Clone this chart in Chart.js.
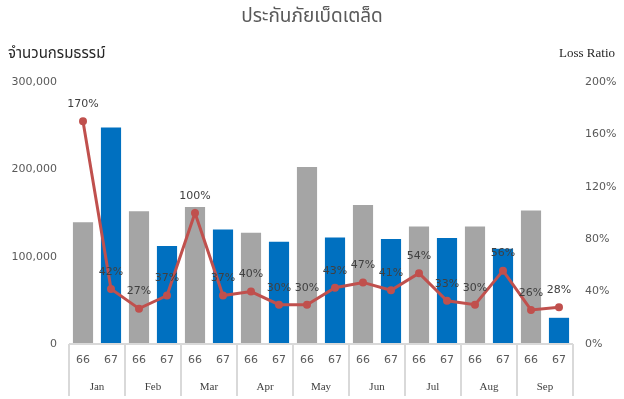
<!DOCTYPE html>
<html>
<head>
<meta charset="utf-8">
<script src="https://cdn.jsdelivr.net/npm/chart.js@4.4.1/dist/chart.umd.min.js"></script>
<style>
  html, body { margin: 0; padding: 0; background: #fff; }
  #wrap { position: relative; width: 624px; height: 399px; }
  #chart { position: absolute; left: 0; top: 0; }
  .txt { position: absolute; white-space: nowrap; }
  #title { left: 0; width: 624px; top: 2px; text-align: center; font: 19px "Noto Sans Thai", "Noto Sans", sans-serif; color: #595959; }
  #yTitle { left: 8px; top: 42px; font: 15px "Noto Sans Thai", "Noto Sans", sans-serif; color: #262626; }
  #y1Title { right: 9px; top: 45px; font: 13px "Liberation Serif", serif; color: #262626; }
</style>
</head>
<body>
<div id="wrap">
  <canvas id="chart" width="624" height="399"></canvas>
  <div class="txt" id="title">ประกันภัยเบ็ดเตล็ด</div>
  <div class="txt" id="yTitle">จำนวนกรมธรรม์</div>
  <div class="txt" id="y1Title">Loss Ratio</div>
</div>
<script>
const MONTHS = ["Jan", "Feb", "Mar", "Apr", "May", "Jun", "Jul", "Aug", "Sep"];
const YEARS = ["66", "67", "66", "67", "66", "67", "66", "67", "66", "67", "66", "67", "66", "67", "66", "67", "66", "67"];
const POLICIES = [139500, 247900, 152000, 112100, 157000, 131200, 127400, 117100, 202700, 122000,
  159300, 120100, 134600, 121300, 134600, 109200, 152900, 30000];
const LOSS_RATIO = [1.70, 0.42, 0.27, 0.37, 1.00, 0.37, 0.40, 0.30, 0.30, 0.43,
  0.47, 0.41, 0.54, 0.33, 0.30, 0.56, 0.26, 0.28];
const GREY = "#A5A5A5";
const BLUE = "#0070C0";
const RED = "#C0504D";
const TICK_FONT = { family: "DejaVu Sans", size: 11 };

const monthDividers = {
  id: "monthDividers",
  afterDraw(chart) {
    const xs = chart.scales.x;
    const ctx = chart.ctx;
    const step = (xs.getPixelForValue(1) - xs.getPixelForValue(0));
    ctx.save();
    ctx.strokeStyle = "#D9D9D9";
    ctx.lineWidth = 2;
    ctx.beginPath();
    ctx.moveTo(xs.left, chart.chartArea.bottom);
    ctx.lineTo(xs.right, chart.chartArea.bottom);
    for (let i = 0; i <= YEARS.length; i += 2) {
      const px = xs.getPixelForValue(0) - step / 2 + i * step;
      ctx.moveTo(px, chart.chartArea.bottom);
      ctx.lineTo(px, chart.height - 3);
    }
    ctx.stroke();
    ctx.restore();
  }
};

const pointLabels = {
  id: "pointLabels",
  afterDatasetsDraw(chart) {
    const meta = chart.getDatasetMeta(1);
    const ctx = chart.ctx;
    ctx.save();
    ctx.font = "11px 'DejaVu Sans'";
    ctx.fillStyle = "#404040";
    ctx.textAlign = "center";
    ctx.textBaseline = "middle";
    meta.data.forEach((pt, i) => {
      ctx.fillText(Math.round(LOSS_RATIO[i] * 100) + "%", pt.x, pt.y - 17);
    });
    ctx.restore();
  }
};

new Chart(document.getElementById("chart"), {
  data: {
    labels: YEARS,
    datasets: [
      {
        type: "bar",
        data: POLICIES,
        backgroundColor: YEARS.map((y) => (y === "66" ? GREY : BLUE)),
        barPercentage: 0.72,
        categoryPercentage: 1,
        yAxisID: "y",
        order: 2
      },
      {
        type: "line",
        data: LOSS_RATIO,
        borderColor: RED,
        backgroundColor: RED,
        borderWidth: 3,
        pointRadius: 2.5,
        tension: 0,
        yAxisID: "y1",
        order: 1
      }
    ]
  },
  options: {
    responsive: false,
    animation: false,
    layout: { padding: { left: 0, right: 0, top: 82, bottom: 0 } },
    plugins: { legend: { display: false }, tooltip: { enabled: false } },
    scales: {
      x: {
        offset: true,
        grid: { display: false, drawTicks: false },
        border: { display: false },
        ticks: { color: "#595959", font: { family: "DejaVu Sans", size: 11 }, padding: 10 },
        afterFit: (s) => { s.height = 28; }
      },
      x2: {
        type: "category",
        position: "bottom",
        labels: MONTHS,
        offset: true,
        grid: { display: false, drawTicks: false },
        border: { display: false },
        ticks: { color: "#404040", font: { family: "Liberation Serif", size: 11 }, padding: 9 },
        afterFit: (s) => { s.height = 27; }
      },
      y: {
        position: "left",
        min: 0,
        max: 300000,
        ticks: {
          stepSize: 100000,
          color: "#595959",
          font: TICK_FONT,
          padding: 12,
          callback: (v) => v.toLocaleString("en-US")
        },
        grid: { display: false, drawTicks: false },
        border: { display: false },
        afterFit: (s) => { s.width = 69; }
      },
      y1: {
        position: "right",
        min: 0,
        max: 2,
        ticks: {
          stepSize: 0.4,
          color: "#595959",
          font: TICK_FONT,
          padding: 12,
          callback: (v) => Math.round(v * 100) + "%"
        },
        grid: { display: false, drawTicks: false },
        border: { display: false },
        afterFit: (s) => { s.width = 51; }
      }
    }
  },
  plugins: [monthDividers, pointLabels]
});
</script>
</body>
</html>
